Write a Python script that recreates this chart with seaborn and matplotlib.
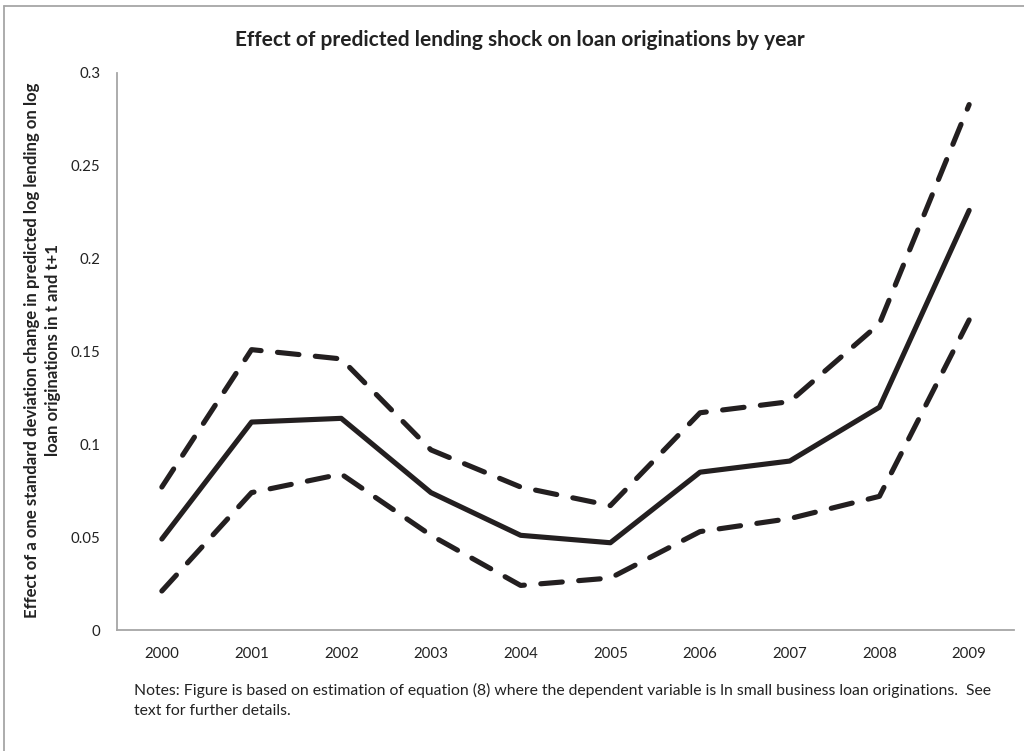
import matplotlib
matplotlib.use("Agg")
import matplotlib.pyplot as plt
from matplotlib.lines import Line2D
import seaborn as sns
import pandas as pd

years = ["2000", "2001", "2002", "2003", "2004", "2005", "2006", "2007", "2008", "2009"]
estimate = [0.049, 0.112, 0.114, 0.074, 0.051, 0.047, 0.085, 0.091, 0.120, 0.226]
upper_bound = [0.077, 0.151, 0.146, 0.097, 0.077, 0.067, 0.117, 0.123, 0.165, 0.283]
lower_bound = [0.021, 0.074, 0.084, 0.051, 0.024, 0.028, 0.053, 0.060, 0.072, 0.167]
y_ticks = [0, 0.05, 0.1, 0.15, 0.2, 0.25, 0.3]
y_tick_labels = ["0", "0.05", "0.1", "0.15", "0.2", "0.25", "0.3"]

title = "Effect of predicted lending shock on loan originations by year"
y_label_lines = ["Effect of a one standard deviation change in predicted log lending on log",
                 "loan originations in t and t+1"]
notes = ("Notes: Figure is based on estimation of equation (8) where the dependent variable is ln small business loan originations.  See\n"
         "text for further details.")

sns.set_theme(style="white")
plt.rcParams["font.family"] = ["Lato", "DejaVu Sans"]

df = pd.DataFrame({
    "pos": range(len(years)),
    "estimate": estimate,
    "upper": upper_bound,
    "lower": lower_bound,
})

fig = plt.figure(figsize=(10.24, 7.51), dpi=100)
ax = fig.add_axes([117 / 1024, 1 - 630 / 751, (1014 - 117) / 1024, (630 - 73) / 751])

line_color = "#231f20"
for col in ["upper", "lower"]:
    sns.lineplot(data=df, x="pos", y=col, ax=ax, color=line_color, linewidth=3.7,
                 dashes=False, solid_capstyle="round")
    ax.lines[-1].set_linestyle((0, (4.2, 3.2)))
    ax.lines[-1].set_dash_capstyle("round")
sns.lineplot(data=df, x="pos", y="estimate", ax=ax, color=line_color, linewidth=3.7)

ax.set_xlim(-0.5, len(years) - 0.5)
ax.set_ylim(0, 0.3)
ax.set_xticks(range(len(years)))
ax.set_xticklabels(years)
ax.set_yticks(y_ticks)
ax.set_yticklabels(y_tick_labels)
ax.tick_params(axis="both", length=0, labelsize=10.8, colors="#222222")
ax.tick_params(axis="x", pad=12)
ax.tick_params(axis="y", pad=12)
ax.set_xlabel("")
ax.set_ylabel("")

for side in ["top", "right"]:
    ax.spines[side].set_visible(False)
for side in ["left", "bottom"]:
    ax.spines[side].set_color("#a6a6a6")
    ax.spines[side].set_linewidth(1.3)

fig.text(520 / 1024, 1 - 40 / 751, title, ha="center", va="center",
         fontsize=15, fontweight="bold", color="#222222")
for x_px, line in zip([32, 53], y_label_lines):
    fig.text(x_px / 1024, 1 - 350 / 751, line, ha="center", va="center", rotation=90,
             fontsize=12.1, fontweight="bold", color="#222222")
fig.text(134 / 1024, 1 - 700 / 751, notes, ha="left", va="center",
         fontsize=11.3, color="#222222", linespacing=1.55)

# outer chart frame (top and left edges)
frame_kw = dict(transform=fig.transFigure, color="#a6a6a6", linewidth=1.3)
fig.add_artist(Line2D([4 / 1024, 1.0], [1 - 6 / 751, 1 - 6 / 751], **frame_kw))
fig.add_artist(Line2D([4 / 1024, 4 / 1024], [0.0, 1 - 6 / 751], **frame_kw))

fig.savefig("out.png", dpi=100, facecolor="white")
